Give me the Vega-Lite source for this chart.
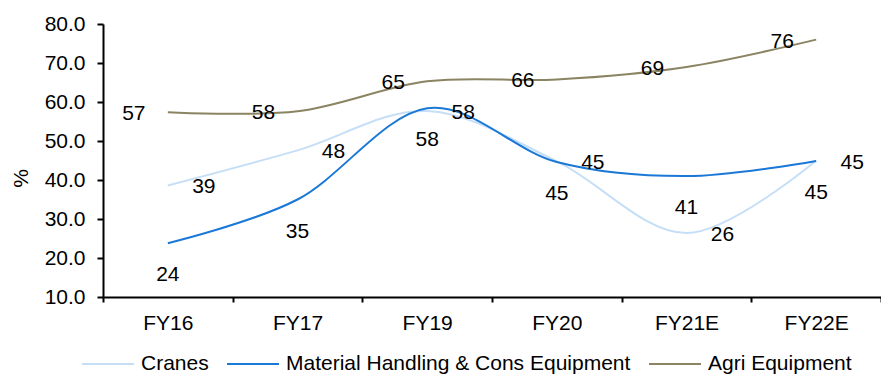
{
  "$schema": "https://vega.github.io/schema/vega-lite/v6.json",
  "width": 778,
  "height": 273,
  "autosize": {"type": "none"},
  "padding": {"left": 103, "top": 24, "right": 0, "bottom": 79},
  "background": "white",
  "config": {"view": {"stroke": null}, "font": "Liberation Sans"},
  "data": {
    "values": [
      {"year": "FY16", "series": "Cranes", "value": 38.6},
      {"year": "FY17", "series": "Cranes", "value": 47.6},
      {"year": "FY19", "series": "Cranes", "value": 57.7},
      {"year": "FY20", "series": "Cranes", "value": 44.8},
      {"year": "FY21E", "series": "Cranes", "value": 26.4},
      {"year": "FY22E", "series": "Cranes", "value": 45.0},
      {"year": "FY16", "series": "Material Handling & Cons Equipment", "value": 23.8},
      {"year": "FY17", "series": "Material Handling & Cons Equipment", "value": 35.0},
      {"year": "FY19", "series": "Material Handling & Cons Equipment", "value": 58.4},
      {"year": "FY20", "series": "Material Handling & Cons Equipment", "value": 44.6},
      {"year": "FY21E", "series": "Material Handling & Cons Equipment", "value": 41.0},
      {"year": "FY22E", "series": "Material Handling & Cons Equipment", "value": 44.9},
      {"year": "FY16", "series": "Agri Equipment", "value": 57.4},
      {"year": "FY17", "series": "Agri Equipment", "value": 57.6},
      {"year": "FY19", "series": "Agri Equipment", "value": 65.3},
      {"year": "FY20", "series": "Agri Equipment", "value": 65.8},
      {"year": "FY21E", "series": "Agri Equipment", "value": 69.0},
      {"year": "FY22E", "series": "Agri Equipment", "value": 76.0}
    ]
  },
  "encoding": {
    "x": {
      "field": "year",
      "type": "nominal",
      "sort": ["FY16", "FY17", "FY19", "FY20", "FY21E", "FY22E"],
      "scale": {"type": "band", "paddingInner": 0, "paddingOuter": 0},
      "axis": {
        "title": null,
        "grid": false,
        "labelAngle": 0,
        "domainColor": "black",
        "domainWidth": 2,
        "tickColor": "black",
        "tickWidth": 2,
        "tickSize": 5,
        "tickBand": "extent",
        "labelFontSize": 21,
        "labelColor": "black",
        "labelPadding": 10
      }
    },
    "y": {
      "field": "value",
      "type": "quantitative",
      "scale": {"domain": [10, 80], "nice": false, "zero": false},
      "axis": {
        "values": [10, 20, 30, 40, 50, 60, 70, 80],
        "format": ".1f",
        "grid": false,
        "domainColor": "black",
        "domainWidth": 2,
        "tickColor": "black",
        "tickWidth": 2,
        "tickSize": 6,
        "labelFontSize": 21,
        "labelColor": "black",
        "labelPadding": 12,
        "title": "%",
        "titleFontSize": 21,
        "titleFontWeight": "normal",
        "titleColor": "black",
        "titleAngle": 270,
        "titleAlign": "center",
        "titleBaseline": "middle",
        "titleX": -82,
        "titleY": 154
      }
    }
  },
  "layer": [
    {
      "mark": {"type": "line", "interpolate": "cardinal", "strokeWidth": 2},
      "encoding": {
        "color": {
          "field": "series",
          "type": "nominal",
          "scale": {
            "domain": ["Cranes", "Material Handling & Cons Equipment", "Agri Equipment"],
            "range": ["#C6DFF7", "#1A78D6", "#8A8462"]
          },
          "legend": {
            "title": null,
            "orient": "none",
            "direction": "horizontal",
            "legendX": -22,
            "legendY": 313,
            "padding": 0,
            "symbolType": "stroke",
            "symbolSize": 2704,
            "symbolStrokeWidth": 2,
            "labelFontSize": 21,
            "labelColor": "black",
            "labelOffset": 6,
            "labelLimit": 0,
            "columnPadding": 14
          }
        }
      }
    },
    {
      "transform": [{"filter": "datum.series === 'Cranes'"}],
      "mark": {"type": "text", "fontSize": 21, "color": "black", "dx": 36, "dy": 2, "align": "center", "baseline": "middle"},
      "encoding": {"text": {"field": "value", "type": "quantitative", "format": ".0f"}}
    },
    {
      "transform": [{"filter": "datum.series === 'Material Handling & Cons Equipment'"}],
      "mark": {"type": "text", "fontSize": 21, "color": "black", "dx": 0, "dy": 32, "align": "center", "baseline": "middle"},
      "encoding": {"text": {"field": "value", "type": "quantitative", "format": ".0f"}}
    },
    {
      "transform": [{"filter": "datum.series === 'Agri Equipment'"}],
      "mark": {"type": "text", "fontSize": 21, "color": "black", "dx": -34, "dy": 2, "align": "center", "baseline": "middle"},
      "encoding": {"text": {"field": "value", "type": "quantitative", "format": ".0f"}}
    }
  ]
}
